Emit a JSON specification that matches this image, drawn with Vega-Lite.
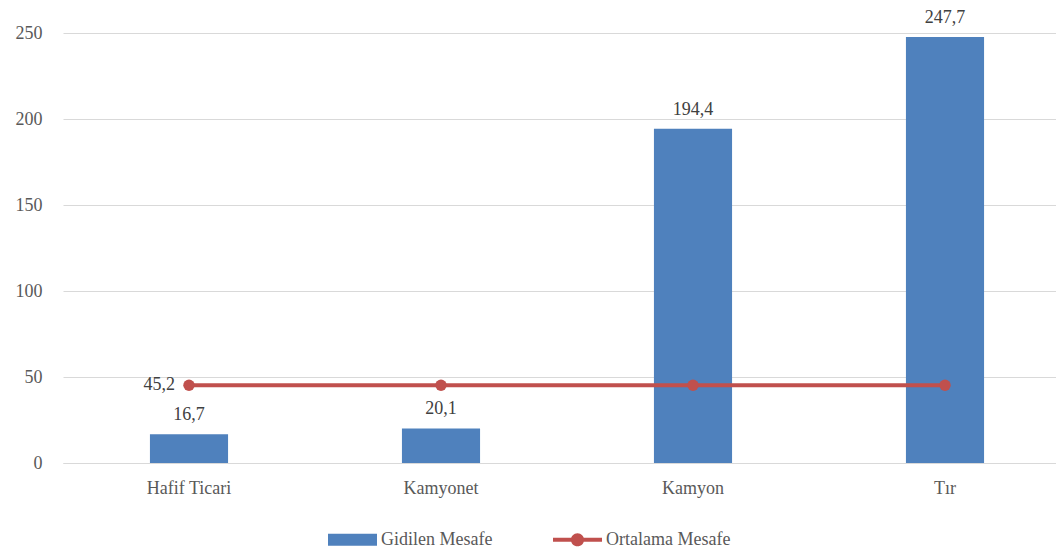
{
  "$schema": "https://vega.github.io/schema/vega-lite/v6.json",
  "width": 993,
  "height": 430,
  "autosize": {"type": "none"},
  "padding": {"left": 63, "top": 33, "right": 0, "bottom": 92},
  "background": "white",
  "config": {
    "locale": {"number": {"decimal": ",", "thousands": ".", "grouping": [3], "currency": ["", " TL"]}},
    "font": "Liberation Serif",
    "view": {"stroke": null},
    "axis": {"labelFont": "Liberation Serif", "labelFontSize": 18, "labelColor": "#595959", "title": null}
  },
  "data": {
    "values": [
      {"kategori": "Hafif Ticari", "mesafe": 16.7, "ortalama": 45.2},
      {"kategori": "Kamyonet", "mesafe": 20.1, "ortalama": 45.2},
      {"kategori": "Kamyon", "mesafe": 194.4, "ortalama": 45.2},
      {"kategori": "Tır", "mesafe": 247.7, "ortalama": 45.2}
    ]
  },
  "encoding": {
    "x": {
      "field": "kategori", "type": "nominal", "sort": null,
      "scale": {"range": [0, 1008], "paddingInner": 0, "paddingOuter": 0},
      "axis": {"labelAngle": 0, "ticks": false, "tickSize": 0, "domain": true, "domainColor": "#D9D9D9", "domainWidth": 1, "labelPadding": 16, "grid": false}
    }
  },
  "layer": [
    {
      "mark": {"type": "bar", "width": {"band": 0.31}},
      "encoding": {
        "y": {
          "field": "mesafe", "type": "quantitative",
          "scale": {"domain": [0, 250], "nice": false},
          "axis": {"values": [0, 50, 100, 150, 200, 250], "domain": false, "ticks": false, "tickSize": 0, "labelPadding": 21, "gridColor": "#D9D9D9", "gridWidth": 1, "format": "d"}
        },
        "color": {
          "datum": "Gidilen Mesafe",
          "scale": {"domain": ["Gidilen Mesafe", "Ortalama Mesafe"], "range": ["#4F81BD", "#C0504D"]},
          "legend": {
            "title": null,
            "orient": "none",
            "direction": "horizontal",
            "legendX": 265,
            "legendY": 482,
            "symbolSize": 2401,
            "symbolType": "M-1,-0.245H1V0.245H-1Z",
            "labelFont": "Liberation Serif",
            "labelFontSize": 18,
            "labelColor": "#595959",
            "labelOffset": 4,
            "columnPadding": 60,
            "padding": 0,
            "encode": {
              "symbols": {
                "update": {
                  "shape": {"signal": "datum.value === 'Gidilen Mesafe' ? 'M-1,-0.245H1V0.245H-1Z' : 'M-1,-0.08H1V0.08H-1Z M-0.27,0A0.27,0.27 0 1,1 0.27,0A0.27,0.27 0 1,1 -0.27,0Z'"},
                  "fill": {"signal": "datum.value === 'Gidilen Mesafe' ? '#4F81BD' : '#C0504D'"},
                  "stroke": {"value": "transparent"},
                  "strokeWidth": {"value": 0},
                  "opacity": {"value": 1},
                  "fillOpacity": {"value": 1}
                }
              }
            }
          }
        }
      }
    },
    {
      "mark": {"type": "text", "baseline": "alphabetic", "dy": -14, "fontSize": 18, "color": "#404040"},
      "encoding": {
        "y": {"field": "mesafe", "type": "quantitative"},
        "text": {"field": "mesafe", "type": "quantitative", "format": ".1f"}
      }
    },
    {
      "mark": {"type": "line", "color": "#C0504D", "strokeWidth": 4, "point": {"filled": true, "size": 130, "color": "#C0504D", "opacity": 1}},
      "encoding": {
        "y": {"field": "ortalama", "type": "quantitative"},
        "color": {"datum": "Ortalama Mesafe"}
      }
    },
    {
      "transform": [{"filter": "datum.kategori === 'Hafif Ticari'"}],
      "mark": {"type": "text", "align": "right", "baseline": "middle", "dx": -14, "fontSize": 18, "color": "#404040"},
      "encoding": {
        "y": {"field": "ortalama", "type": "quantitative"},
        "text": {"field": "ortalama", "type": "quantitative", "format": ".1f"}
      }
    }
  ]
}
